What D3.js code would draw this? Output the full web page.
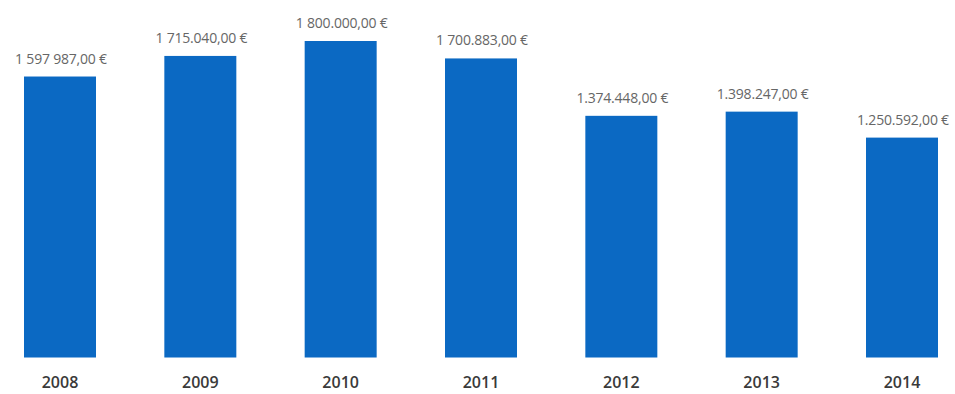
<!DOCTYPE html>
<html>
<head>
<meta charset="utf-8">
<script src="https://cdn.jsdelivr.net/npm/d3@7"></script>
<style>
  html, body { margin: 0; padding: 0; background: #fff; }
  svg { display: block; }
</style>
</head>
<body>
<svg id="chart" width="955" height="394"></svg>
<script>
// Annual amounts in euros
const years = ["2008", "2009", "2010", "2011", "2012", "2013", "2014"];
const amounts = [1597987, 1715040, 1800000, 1700883, 1374448, 1398247, 1250592];
const amountLabels = [
  "1 597 987,00 €",
  "1 715.040,00 €",
  "1 800.000,00 €",
  "1 700.883,00 €",
  "1.374.448,00 €",
  "1.398.247,00 €",
  "1.250.592,00 €"
];

const svg = d3.select("#chart");

const x = d3.scaleBand()
  .domain(years)
  .range([24, 938])
  .paddingInner(0.487)
  .paddingOuter(0);

const y = d3.scaleLinear()
  .domain([0, 1800000])
  .range([357.5, 41]);

const rows = years.map((yr, i) => ({ yr, v: amounts[i], label: amountLabels[i] }));

// Bars
svg.append("g")
  .selectAll("rect")
  .data(rows)
  .join("rect")
  .attr("x", d => x(d.yr))
  .attr("y", d => y(d.v))
  .attr("width", x.bandwidth())
  .attr("height", d => y(0) - y(d.v))
  .attr("fill", "#0b69c3");

// Value labels above bars
svg.append("g")
  .selectAll("text")
  .data(rows)
  .join("text")
  .attr("x", d => x(d.yr) + x.bandwidth() / 2 + 1)
  .attr("y", d => y(d.v) - 13)
  .attr("text-anchor", "middle")
  .attr("font-family", "Open Sans, sans-serif")
  .attr("font-size", 14)
  .attr("letter-spacing", -0.2)
  .attr("fill", "#666")
  .text(d => d.label);

// Category axis
const xAxis = svg.append("g")
  .attr("transform", `translate(0,${y(0)})`)
  .call(d3.axisBottom(x).tickSize(0).tickPadding(19));
xAxis.select(".domain").remove();
xAxis.selectAll("text")
  .attr("font-family", "Open Sans, sans-serif")
  .attr("font-size", 16)
  .attr("font-weight", 600)
  .attr("fill", "#3a3a3a")
  .attr("dy", "0.71em");
</script>
</body>
</html>
